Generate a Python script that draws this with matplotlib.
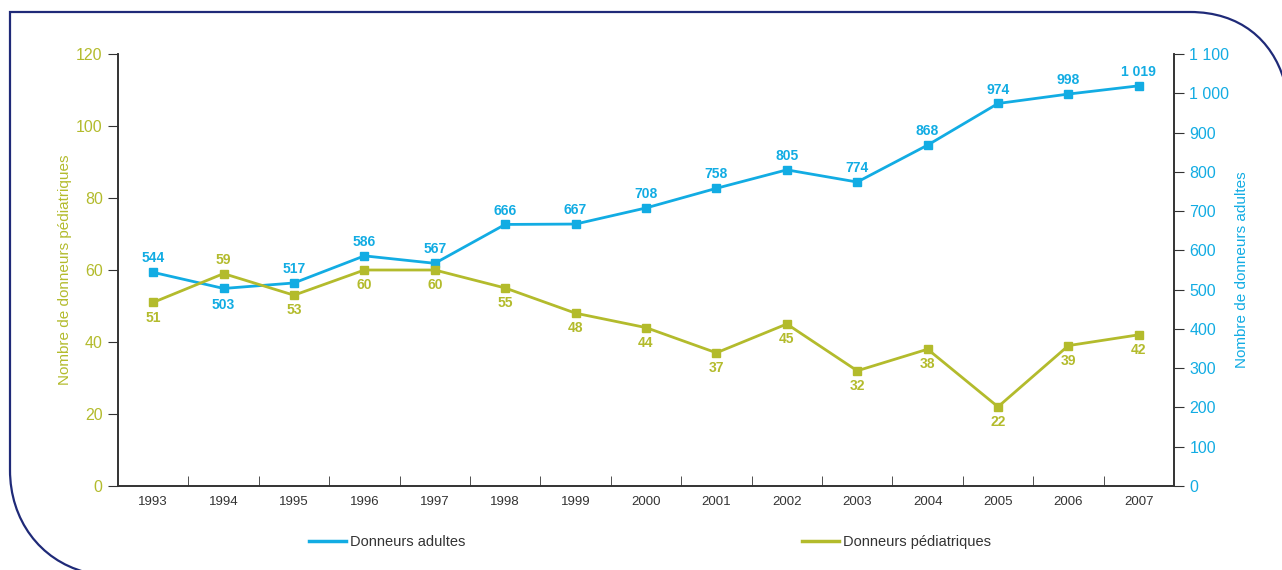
"""Donneurs adultes / pédiatriques 1993-2007 (dual axis line chart)."""
import matplotlib
matplotlib.use("Agg")
import matplotlib.pyplot as plt
from matplotlib.path import Path
from matplotlib.lines import Line2D
import matplotlib.patches as mpatches

plt.rcParams["font.family"] = ["Liberation Sans", "DejaVu Sans"]

years = [str(y) for y in range(1993, 2008)]
adultes = [544, 503, 517, 586, 567, 666, 667, 708, 758, 805, 774, 868, 974, 998, 1019]
pediatriques = [51, 59, 53, 60, 60, 55, 48, 44, 37, 45, 32, 38, 22, 39, 42]
# labels drawn below the adult marker / above the pediatric marker
adultes_below = {"1994"}
pediatriques_above = {"1994"}

left_ticks = [0, 20, 40, 60, 80, 100, 120]
right_ticks = list(range(0, 1101, 100))

BLUE = "#12ACE3"
OLIVE = "#B3BB2C"
DARK = "#333333"
NAVY = "#1F2A78"


def fmt(v):
    return f"{v:,}".replace(",", " ")


fig = plt.figure(figsize=(12.82, 5.70), dpi=100)

# rounded frame around the chart
bg = fig.add_axes([0, 0, 1, 1], zorder=-10)
bg.set_xlim(0, 1282)
bg.set_ylim(570, 0)
bg.axis("off")
verts = [(10, 470), (10, 520), (40, 560), (85, 572),
         (10, 470), (10, 12), (1190, 12),
         (1240, 12), (1272, 40), (1284, 80)]
codes = [Path.MOVETO, Path.CURVE4, Path.CURVE4, Path.CURVE4,
         Path.MOVETO, Path.LINETO, Path.LINETO,
         Path.CURVE4, Path.CURVE4, Path.CURVE4]
bg.add_patch(mpatches.PathPatch(Path(verts, codes), fill=False,
                                edgecolor=NAVY, linewidth=1.6))

ax = fig.add_axes([118 / 1282, 84 / 570, 1056 / 1282, 432 / 570])
ax2 = ax.twinx()
ax.set_zorder(ax2.get_zorder() + 1)
ax.patch.set_visible(False)

x = list(range(len(years)))

ax2.plot(x, adultes, color=BLUE, lw=2, marker="s", ms=6, label="Donneurs adultes")
for xi, yr, v in zip(x, years, adultes):
    dy = -12 if yr in adultes_below else 10
    ax2.annotate(fmt(v), (xi, v), xytext=(0, dy), textcoords="offset points",
                 ha="center", va="center", fontsize=10, fontweight="bold", color=BLUE)

ax.plot(x, pediatriques, color=OLIVE, lw=2, marker="s", ms=6, label="Donneurs pédiatriques")
for xi, yr, v in zip(x, years, pediatriques):
    dy = 10 if yr in pediatriques_above else -11
    ax.annotate(fmt(v), (xi, v), xytext=(0, dy), textcoords="offset points",
                ha="center", va="center", fontsize=10, fontweight="bold", color=OLIVE)

ax.set_xlim(-0.5, len(years) - 0.5)
ax.set_ylim(0, 120)
ax2.set_ylim(0, 1100)

ax.set_yticks(left_ticks)
ax.set_yticklabels([fmt(v) for v in left_ticks])
ax2.set_yticks(right_ticks)
ax2.set_yticklabels([fmt(v) for v in right_ticks])

ax.set_xticks(x)
ax.set_xticklabels(years)
ax.set_xticks([i + 0.5 for i in range(len(years) - 1)], minor=True)
ax.tick_params(axis="x", which="major", length=0, pad=7, labelsize=9.5, labelcolor=DARK)
ax.tick_params(axis="x", which="minor", direction="in", length=7, color=DARK)
ax.tick_params(axis="y", direction="out", length=7, color=DARK, labelsize=11.5,
               labelcolor=OLIVE, pad=4)
ax2.tick_params(axis="y", direction="out", length=7, color=DARK, labelsize=11.5,
                labelcolor=BLUE, pad=4)

for a in (ax, ax2):
    a.spines["top"].set_visible(False)
    for s in ("left", "right", "bottom"):
        a.spines[s].set_color(DARK)
        a.spines[s].set_linewidth(1.2)

ax.set_ylabel("Nombre de donneurs pédiatriques", color=OLIVE, fontsize=11, labelpad=3)
ax2.set_ylabel("Nombre de donneurs adultes", color=BLUE, fontsize=11, labelpad=4)

_, l1 = ax2.get_legend_handles_labels()
_, l2 = ax.get_legend_handles_labels()
fig.legend([Line2D([], [], color=BLUE, lw=2.5)], l1, loc="center left",
           bbox_to_anchor=(296 / 1282, 1 - 542 / 570),
           frameon=False, fontsize=10.5, handlelength=2.5, handletextpad=0.3,
           labelcolor=DARK)
fig.legend([Line2D([], [], color=OLIVE, lw=2.5)], l2, loc="center left",
           bbox_to_anchor=(789 / 1282, 1 - 542 / 570),
           frameon=False, fontsize=10.5, handlelength=2.5, handletextpad=0.3,
           labelcolor=DARK)

fig.savefig("out.png", dpi=100, facecolor="white")
